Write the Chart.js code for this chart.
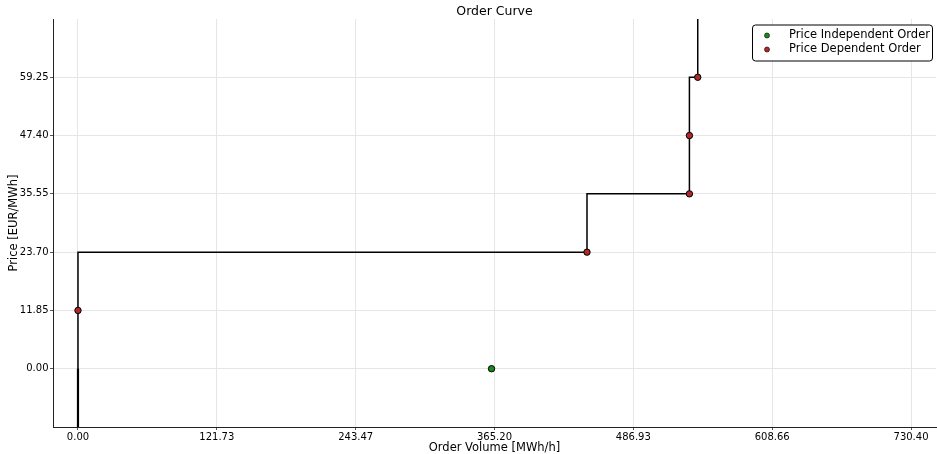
<!DOCTYPE html>
<html>
<head>
<meta charset="utf-8">
<script src="https://cdn.jsdelivr.net/npm/chart.js@4/dist/chart.umd.min.js"></script>
<style>
    body { margin: 0; background: #fff; }
    #wrap { width: 937px; height: 454px; }
</style>
</head>
<body>
<div id="wrap"><canvas id="order-chart" width="937" height="454"></canvas></div>
<script>
// step curve of the order (MWh/h, EUR/MWh)
const curveX = [0, 0, 446.3, 446.3, 536.1, 536.1, 543.4, 543.4];
const curveY = [-11.85, 23.70, 23.70, 35.55, 35.55, 59.25, 59.25, 71.1];
// price independent part below zero
const lowX = [0, 0];
const lowY = [-11.85, 0];

const indepX = [362.6];
const indepY = [0];
const depX = [0, 446.3, 536.1, 536.1, 543.4];
const depY = [11.85, 23.70, 35.55, 47.40, 59.25];

const xTicks = [0, 121.73, 243.47, 365.20, 486.93, 608.66, 730.40];
const yTicks = [0, 11.85, 23.70, 35.55, 47.40, 59.25];
const xRange = [-21.9, 752.3];
const yRange = [-11.85, 71.1];

const toPoints = (xs, ys) => xs.map((x, i) => ({ x: x, y: ys[i] }));

Chart.defaults.font.family = '"DejaVu Sans", sans-serif';
Chart.defaults.color = '#000';

// legend drawn as a framed box inside the plot, top right
const legendBox = {
    id: 'legendBox',
    afterDraw(chart) {
        const { ctx, chartArea } = chart;
        const items = chart.data.datasets.filter(d => d.inLegend);
        const w = 180, h = 36;
        const x0 = chartArea.right - 4 - w;
        const y0 = chartArea.top + 5.5;
        ctx.save();
        ctx.beginPath();
        ctx.roundRect(x0 + 0.5, y0 + 0.5, w, h, 3);
        ctx.fillStyle = '#fff';
        ctx.fill();
        ctx.strokeStyle = '#000';
        ctx.lineWidth = 1;
        ctx.stroke();
        ctx.font = '11.5px "DejaVu Sans"';
        ctx.textBaseline = 'middle';
        items.forEach((d, i) => {
            const cy = y0 + 11 + i * 14;
            ctx.beginPath();
            ctx.arc(x0 + 15, cy, 2.5, 0, Math.PI * 2);
            ctx.fillStyle = d.backgroundColor;
            ctx.fill();
            ctx.lineWidth = 0.6;
            ctx.strokeStyle = '#000';
            ctx.stroke();
            ctx.fillStyle = '#000';
            ctx.fillText(d.label, x0 + 37, cy);
        });
        ctx.restore();
    }
};

new Chart(document.getElementById('order-chart'), {
    type: 'scatter',
    data: {
        datasets: [
            {
                label: 'Price Independent Order',
                inLegend: true,
                data: toPoints(indepX, indepY),
                backgroundColor: '#1a8a1a',
                borderColor: '#000',
                borderWidth: 1,
                pointRadius: 3.2
            },
            {
                label: 'Price Dependent Order',
                inLegend: true,
                data: toPoints(depX, depY),
                backgroundColor: '#b0282a',
                borderColor: '#000',
                borderWidth: 1,
                pointRadius: 3.2
            },
            {
                label: 'curve',
                data: toPoints(curveX, curveY),
                showLine: true,
                borderColor: '#000',
                borderWidth: 1.5,
                pointRadius: 0
            },
            {
                label: 'low',
                data: toPoints(lowX, lowY),
                showLine: true,
                borderColor: '#000',
                borderWidth: 2.2,
                pointRadius: 0
            }
        ]
    },
    options: {
        responsive: false,
        animation: false,
        devicePixelRatio: 1,
        layout: { autoPadding: false, padding: { left: 0, right: 1, top: 0, bottom: 0 } },
        plugins: {
            legend: { display: false },
            tooltip: { enabled: false },
            title: {
                display: true,
                text: 'Order Curve',
                fullSize: false,
                font: { size: 12.5, weight: 'normal', lineHeight: 1.04 },
                padding: { top: 5, bottom: 1 },
                color: '#000'
            }
        },
        scales: {
            x: {
                type: 'linear',
                min: xRange[0],
                max: xRange[1],
                afterBuildTicks: scale => { scale.ticks = xTicks.map(v => ({ value: v })); },
                afterFit: scale => {
                    scale.height = 27;
                    scale.paddingLeft = 0;
                    scale.paddingRight = 0;
                },
                ticks: {
                    font: { size: 10 },
                    padding: 1,
                    maxRotation: 0,
                    callback: v => v.toFixed(2)
                },
                grid: { color: '#e6e6e6', lineWidth: 1, tickLength: 3, tickColor: '#555' },
                border: { color: '#222', width: 1 },
                title: {
                    display: true,
                    text: 'Order Volume [MWh/h]',
                    font: { size: 11.5, lineHeight: 1.0 },
                    padding: { top: 0, bottom: 0 }
                }
            },
            y: {
                type: 'linear',
                min: yRange[0],
                max: yRange[1],
                afterBuildTicks: scale => { scale.ticks = yTicks.map(v => ({ value: v })); },
                afterFit: scale => {
                    scale.width = 53;
                    scale.paddingTop = 0;
                    scale.paddingBottom = 0;
                },
                ticks: {
                    font: { size: 10 },
                    padding: 1.5,
                    callback: v => v.toFixed(2)
                },
                grid: { color: '#e6e6e6', lineWidth: 1, tickLength: 3, tickColor: '#555' },
                border: { color: '#222', width: 1 },
                title: {
                    display: true,
                    text: 'Price [EUR/MWh]',
                    font: { size: 11.5 },
                    padding: { top: 7, bottom: 0 }
                }
            }
        }
    },
    plugins: [legendBox]
});
</script>
</body>
</html>
